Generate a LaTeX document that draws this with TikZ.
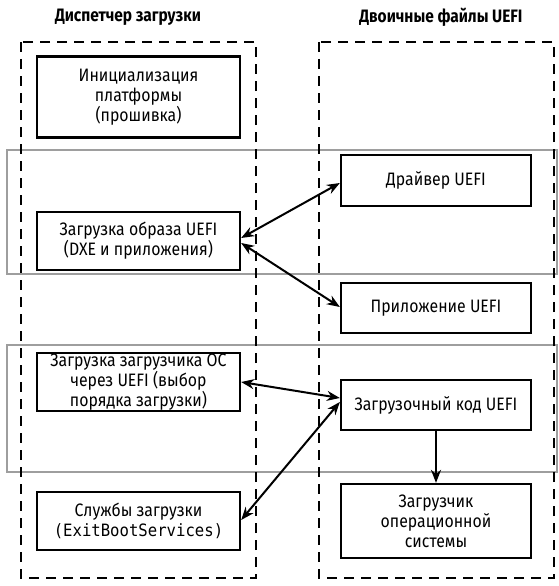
\documentclass[tikz,border=0pt]{standalone}
\usepackage{fontspec}
\setmainfont{Fira Sans}[FakeStretch=0.88]
\newfontfamily\titlefnt{Fira Sans}[FakeStretch=0.86]
\newfontfamily\monofnt{DejaVu Sans Mono}[FakeStretch=0.92]
\usetikzlibrary{arrows.meta}
\begin{document}
\begin{tikzpicture}[x=1pt,y=-1pt,
  boxstyle/.style={draw,line width=2.3pt,fill=white,align=center,inner sep=0pt,
    font=\fontsize{18}{20}\selectfont},
  lbox/.style={boxstyle,minimum width=203pt},
  rbox/.style={boxstyle,minimum width=190pt},
  dashbox/.style={line width=2.3pt,dash pattern=on 10pt off 7pt},
  band/.style={line width=2.5pt,draw=black!38},
  title/.style={font=\titlefnt\bfseries\fontsize{18}{20}\selectfont},
  conn/.style={line width=2pt,{Stealth[length=13pt,width=10pt]}-{Stealth[length=13pt,width=10pt]}},
  oneway/.style={line width=2pt,-{Stealth[length=13pt,width=10pt]}}
]
\useasboundingbox (0,0) rectangle (558,586);
\draw[band] (7,150) rectangle (557,274);
\draw[band] (7,345) rectangle (557,472);
\draw[dashbox] (21,42) rectangle (256,578);
\draw[dashbox] (319,42) rectangle (554,578);
\node[title] (t1) at (128,17) {Диспетчер загрузки};
\node[title] (t2) at (441,17) {Двоичные файлы UEFI};
\node[lbox,minimum height=81pt] (b1) at (138.5,97) {Инициализация\\платформы\\(прошивка)};
\node[lbox,minimum height=58pt] (b2) at (138.5,241) {Загрузка образа UEFI\\(DXE и приложения)};
\node[lbox,minimum height=58pt] (b3) at (138.5,382) {Загрузка загрузчика ОС\\через UEFI (выбор\\порядка загрузки)};
\node[lbox,minimum height=58pt] (b4) at (138.5,521) {Службы загрузки\\{\monofnt\fontsize{17}{20}\selectfont(ExitBootServices)}};
\node[rbox,minimum height=51pt] (drv) at (436,180.5) {Драйвер UEFI};
\node[rbox,minimum height=50pt] (app) at (436,308) {Приложение UEFI};
\node[rbox,minimum height=50pt] (code) at (436,405) {Загрузочный код UEFI};
\node[rbox,minimum height=74pt] (ldr) at (436,521) {Загрузчик\\операционной\\системы};
\draw[conn] ([yshift=3pt]b2.east) -- ([yshift=-2.5pt]drv.west);
\draw[conn] ([yshift=-2pt]b2.east) -- ([yshift=1pt]app.west);
\draw[conn] (b3.east) -- ([yshift=7pt]code.west);
\draw[conn] ([yshift=1pt]b4.east) -- ([yshift=3pt]code.west);
\draw[oneway] (code.south) -- (ldr.north);
\end{tikzpicture}
\end{document}
